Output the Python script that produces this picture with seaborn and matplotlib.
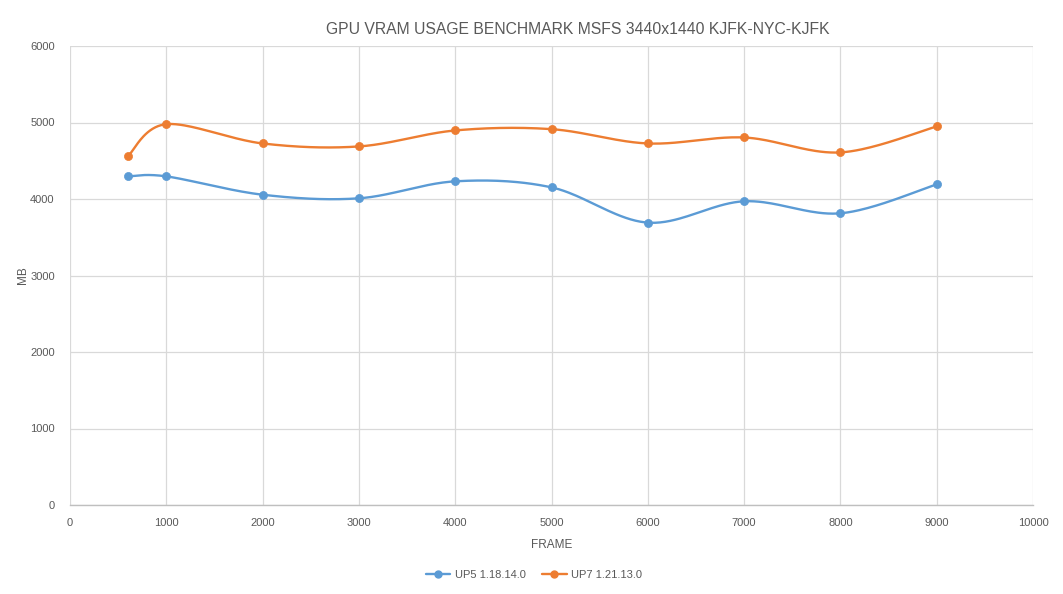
import numpy as np
import pandas as pd
import matplotlib
matplotlib.use("Agg")
import matplotlib.pyplot as plt
import seaborn as sns

frames = [600, 1000, 2000, 3000, 4000, 5000, 6000, 7000, 8000, 9000]
up5 = [4296, 4296, 4056, 4009, 4231, 4152, 3691, 3970, 3813, 4191]
up7 = [4557, 4978, 4726, 4687, 4896, 4913, 4726, 4804, 4609, 4948]
series_names = ["UP5 1.18.14.0", "UP7 1.21.13.0"]
colors = ["#5B9BD5", "#ED7D31"]


def excel_smooth(x, y, n=40):
    # Excel-style smoothed line: cubic bezier with catmull-rom control points
    p = np.column_stack([x, y]).astype(float)
    pts = np.vstack([p[0], p, p[-1]])
    out = []
    for i in range(1, len(pts) - 2):
        p0, p1, p2, p3 = pts[i - 1], pts[i], pts[i + 1], pts[i + 2]
        c1 = p1 + (p2 - p0) / 6
        c2 = p2 - (p3 - p1) / 6
        t = np.linspace(0, 1, n)[:, None]
        seg = ((1 - t) ** 3) * p1 + 3 * ((1 - t) ** 2) * t * c1 + 3 * (1 - t) * t ** 2 * c2 + t ** 3 * p2
        out.append(seg if i == 1 else seg[1:])
    return np.vstack(out)


sns.set_style("white")
plt.rcParams['font.family'] = ['Liberation Sans', 'DejaVu Sans']

fig = plt.figure(figsize=(10.63, 5.94), dpi=100)
ax = fig.add_axes([70 / 1063, 1 - 505 / 594, 963 / 1063, 459 / 594])

for name, vals, c in zip(series_names, [up5, up7], colors):
    curve = excel_smooth(frames, vals)
    cdf = pd.DataFrame({"x": curve[:, 0], "y": curve[:, 1]})
    sns.lineplot(data=cdf, x="x", y="y", ax=ax, color=c, linewidth=1.7, sort=False,
                 estimator=None, zorder=3)
    pdf = pd.DataFrame({"x": frames, "y": vals})
    sns.scatterplot(data=pdf, x="x", y="y", ax=ax, color=c, s=34, edgecolor=c,
                    linewidth=0.5, zorder=4)

ax.set_xlim(0, 10000)
ax.set_ylim(0, 6000)
ax.set_xticks(range(0, 10001, 1000))
ax.set_yticks(range(0, 6001, 1000))
ax.grid(True, color="#d9d9d9", linewidth=0.9)
ax.set_axisbelow(True)
for s in ["top", "right", "left"]:
    ax.spines[s].set_visible(False)
ax.spines["bottom"].set_color("#bfbfbf")
ax.spines["bottom"].set_linewidth(1.0)
ax.tick_params(axis="x", length=0, labelsize=8, colors="#595959", pad=9)
ax.tick_params(axis="y", length=0, labelsize=8, colors="#595959", pad=11)

ax.set_xlabel("FRAME", fontsize=8.5, color="#595959", labelpad=8)
ax.set_ylabel("MB", fontsize=8.5, color="#595959", labelpad=1)

fig.text(578 / 1063, 1 - 30 / 594, "GPU VRAM USAGE BENCHMARK MSFS 3440x1440 KJFK-NYC-KJFK",
         ha="center", va="center", fontsize=11.3, color="#595959")

handles = [plt.Line2D([0], [0], color=c, linewidth=1.7, marker="o", markersize=5)
           for c in colors]
fig.legend(handles, series_names, loc="center", bbox_to_anchor=(534 / 1063, 1 - 575 / 594),
           ncol=2, frameon=False, fontsize=8, labelcolor="#595959", handlelength=2.2,
           columnspacing=1.5, handletextpad=0.4)

fig.savefig("out.png", dpi=100)
